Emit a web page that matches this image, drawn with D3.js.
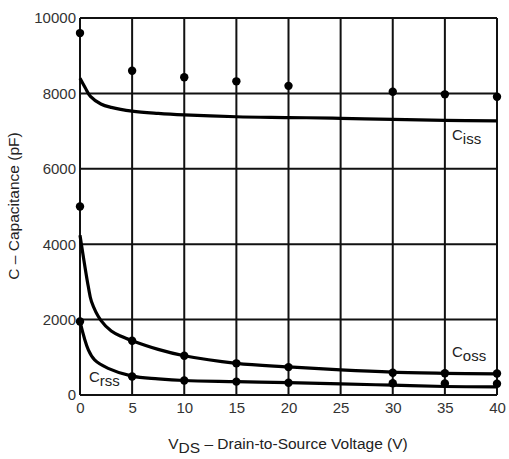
<!DOCTYPE html>
<html><head><meta charset="utf-8">
<script src="https://cdn.jsdelivr.net/npm/d3@7"></script>
<style>body{margin:0;background:#fff;} text{font-family:"Liberation Sans",Arial,sans-serif;}</style>
</head><body><svg id="c" width="509" height="459"></svg>
<script>
const xTicks = [0,5,10,15,20,25,30,35,40];
const yTicks = [0,2000,4000,6000,8000,10000];
const dotV = [0,5,10,15,20,30,35,40];
const cissDots = [9600,8600,8430,8320,8200,8045,7975,7910];
const cossDots = [5000,1440,1040,840,740,590,575,570];
const crssDots = [1950,490,385,355,326,310,305,300];
const cissV = [0,0.5,1,2,3,5,7.5,10,15,20,25,30,35,40];
const cissC = [8400,8150,7920,7720,7630,7530,7470,7430,7380,7360,7340,7310,7285,7270];
const cossV = [0,0.8,1.1,2,3,4,5,7.5,10,15,20,25,30,35,40];
const cossC = [4240,2870,2480,1980,1700,1550,1440,1210,1040,840,745,665,605,575,560];
const crssV = [0,0.8,1.4,2.7,5,7.5,10,15,20,25,30,35,40];
const crssC = [1945,1195,930,707,500,430,385,355,326,295,260,225,215];

const svg = d3.select("#c");
const L=80, R=497, T=18, B=395;
const x = d3.scaleLinear().domain([0,40]).range([L,R]);
const y = d3.scaleLinear().domain([0,10000]).range([B,T]);
const FONT = "Liberation Sans, Arial, sans-serif";

// grid
const g = svg.append("g");
g.selectAll(".v").data(xTicks).join("line")
  .attr("x1",d=>x(d)).attr("x2",d=>x(d)).attr("y1",T).attr("y2",B)
  .attr("stroke","#111").attr("stroke-width",2);
g.selectAll(".h").data(yTicks).join("line")
  .attr("x1",L).attr("x2",R).attr("y1",d=>y(d)).attr("y2",d=>y(d))
  .attr("stroke","#111").attr("stroke-width",2);

// axes labels
const xAxis = d3.axisBottom(x).tickValues(xTicks).tickSize(0).tickPadding(7);
const xa = svg.append("g").attr("transform",`translate(0,${B})`).call(xAxis);
xa.select(".domain").remove();
xa.selectAll("text").attr("font-size",15).attr("fill","#333").attr("font-family",FONT);
const yAxis = d3.axisLeft(y).tickValues(yTicks).tickSize(0).tickPadding(4).tickFormat(d3.format("d"));
const ya = svg.append("g").attr("transform",`translate(${L},0)`).call(yAxis);
ya.select(".domain").remove();
ya.selectAll("text").attr("font-size",15).attr("fill","#333").attr("font-family",FONT);

// curves
const line = d3.line().x(d=>x(d[0])).y(d=>y(d[1])).curve(d3.curveCatmullRom.alpha(0.5));
[[cissV,cissC],[cossV,cossC],[crssV,crssC]].forEach(([vs,cs])=>{
  svg.append("path").attr("d",line(vs.map((v,i)=>[v,cs[i]])))
    .attr("fill","none").attr("stroke","#000").attr("stroke-width",3.2).attr("stroke-linejoin","round");
});
// dots
[cissDots,cossDots,crssDots].forEach(arr=>{
  svg.append("g").selectAll("circle").data(arr).join("circle")
    .attr("cx",(d,i)=>x(dotV[i])).attr("cy",d=>y(d)).attr("r",4.2).attr("fill","#000");
});

// series labels
function lab(px,py,sub){
  const t = svg.append("text").attr("x",px).attr("y",py).attr("font-size",15).attr("fill","#222");
  t.append("tspan").text("C");
  t.append("tspan").attr("dy",4).text(sub);
}
lab(452,140,"iss");
lab(452,357,"oss");
lab(89,382,"rss");

// axis titles
const xt = svg.append("text").attr("x",288).attr("y",449).attr("text-anchor","middle").attr("font-size",15.5).attr("fill","#222");
xt.append("tspan").text("V");
xt.append("tspan").attr("dy",4).text("DS");
xt.append("tspan").attr("dy",-4).text(" – Drain-to-Source Voltage (V)");
svg.append("text").attr("transform","translate(19,206) rotate(-90)").attr("text-anchor","middle")
  .attr("font-size",15.5).attr("fill","#222").text("C – Capacitance (pF)");
</script></body></html>
